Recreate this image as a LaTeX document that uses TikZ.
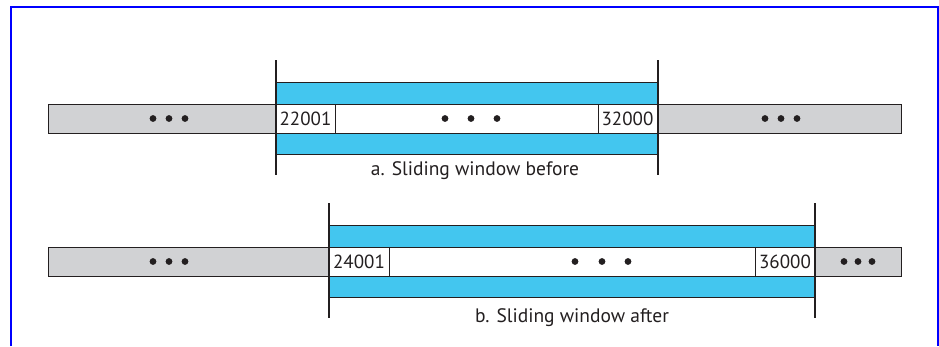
\documentclass[tikz,border=0pt]{standalone}
\usepackage{fontspec}
\setmainfont{PT Sans}
\definecolor{win}{HTML}{43C6EF}
\definecolor{bar}{HTML}{D1D2D4}
\definecolor{ink}{HTML}{231F20}
\begin{document}
\begin{tikzpicture}[x=1pt,y=-1pt,
 box/.style={draw=ink, line width=1pt, inner sep=0pt, outer sep=0pt, anchor=north west, minimum height=29pt},
 graybar/.style={box, fill=bar},
 band/.style={box, fill=win, minimum height=72pt},
 rowbox/.style={box, fill=white},
 cell/.style={box, fill=white, font=\fontsize{19}{22}\selectfont, text=ink},
 edge/.style={draw=ink, line width=2pt},
 caption/.style={font=\fontsize{19.5}{23}\selectfont, text=ink},
 dotmark/.style={fill=ink}]
\useasboundingbox (0,0) rectangle (939,346);
\draw[blue, line width=2pt] (11,346) -- (11,7) -- (938,7) -- (938,346);

% ---- a. before
\node[graybar, minimum width=228pt] (la) at (48,104) {};
\node[band, minimum width=381pt] (wa) at (276,82) {};
\node[rowbox, minimum width=381pt] (ra) at (276,104) {};
\node[cell, minimum width=59pt] (ca1) at (276,104) {22001};
\node[cell, minimum width=59pt] (ca2) at (598,104) {32000};
\node[graybar, minimum width=243pt] (ga) at (658,104) {};
\coordinate (ta1) at (276,60); \coordinate (ba1) at (276,175);
\coordinate (ta2) at (658,60); \coordinate (ba2) at (658,175);
\draw[edge] (ta1) -- (ba1);
\draw[edge] (ta2) -- (ba2);
\node[caption] (capa) at (475,171) {a. Sliding window before};
\foreach \x in {153,169,185,445,471,497,765,781,797} \fill[dotmark] (\x,118.5) circle (3.4pt);

% ---- b. after
\node[graybar, minimum width=281pt] (lb) at (48,247) {};
\node[band, minimum width=486pt] (wb) at (329,225) {};
\node[rowbox, minimum width=486pt] (rb) at (329,247) {};
\node[cell, minimum width=60pt] (cb1) at (329,247) {24001};
\node[cell, minimum width=60pt] (cb2) at (755,247) {36000};
\node[graybar, minimum width=86pt] (gb) at (815,247) {};
\coordinate (tb1) at (329,203); \coordinate (bb1) at (329,318);
\coordinate (tb2) at (815,203); \coordinate (bb2) at (815,318);
\draw[edge] (tb1) -- (bb1);
\draw[edge] (tb2) -- (bb2);
\node[caption] (capb) at (572,318) {b. Sliding window after};
\foreach \x in {153,169,185,575,602,628,844,858,872} \fill[dotmark] (\x,261.5) circle (3.4pt);
\end{tikzpicture}
\end{document}
